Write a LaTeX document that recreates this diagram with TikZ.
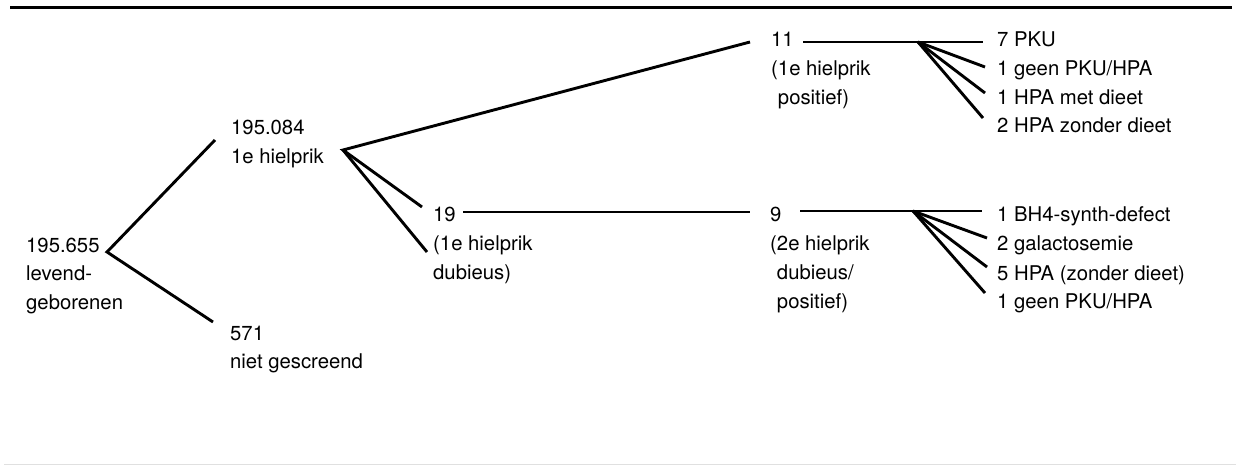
\documentclass[tikz,border=0pt]{standalone}
\usepackage{fontspec}
\setmainfont{TeX Gyre Heros}
\newcommand\blk[1]{\vtop{\baselineskip=28.7pt\lineskiplimit=-50pt\lineskip=0pt #1}}
\begin{document}
\begin{tikzpicture}[x=1pt,y=-1pt,
  every node/.style={inner sep=0pt, anchor=base west, font=\fontsize{20.3}{28.7}\selectfont},
  link/.style={line width=2.9pt, line join=miter},
  rule/.style={line width=2.6pt},
  faint/.style={line width=1pt, black!12}]
\useasboundingbox (0,0) rectangle (1240,468);
% rules
\coordinate (rl) at (10,7.5); \coordinate (rr) at (1232,7.5);
\draw[rule] (rl) -- (rr);
\coordinate (bl) at (4,464); \coordinate (br) at (1236,464);
\draw[faint] (bl) -- (br);
% text blocks
\node (live) at (26,252) {\blk{\hbox{195.655}\hbox{levend-}\hbox{geborenen}}};
\node (first) at (231,135) {\blk{\hbox{195.084}\hbox{1e hielprik}}};
\node (notscr) at (230,340) {\blk{\hbox{571}\hbox{niet gescreend}}};
\node (dub) at (433,222) {\blk{\hbox{19}\hbox{(1e hielprik}\hbox{dubieus)}}};
\node (pos) at (771,47) {\blk{\hbox{11}\hbox{(1e hielprik}\hbox{\phantom{(}positief)}}};
\node (sec) at (770,222) {\blk{\hbox{9}\hbox{(2e hielprik}\hbox{\phantom{(}dubieus/}\hbox{\phantom{(}positief)}}};
\node (pa) at (997,47) {7 PKU};
\node (pb) at (997,76) {1 geen PKU/HPA};
\node (pc) at (997,105) {1 HPA met dieet};
\node (pd) at (997,133) {2 HPA zonder dieet};
\node (sa) at (997,222) {1 BH4-synth-defect};
\node (sb) at (997,250) {2 galactosemie};
\node (sc) at (997,280) {5 HPA (zonder dieet)};
\node (sd) at (997,308) {1 geen PKU/HPA};
% connector points
\coordinate (v0) at (107,252);
\coordinate (e1) at (215,140);
\coordinate (e2) at (213,322);
\coordinate (v1) at (343,150);
\coordinate (e11) at (750,42);
\coordinate (e19a) at (422,207);
\coordinate (e19b) at (427,252);
\coordinate (s19) at (463,212);
\coordinate (t9) at (750,212);
\coordinate (s11) at (803,42);
\coordinate (f11) at (918,42);
\coordinate (r11a) at (983,42);
\coordinate (r11b) at (985,67);
\coordinate (r11c) at (985,93);
\coordinate (r11d) at (983,118);
\coordinate (s9) at (800,211);
\coordinate (f9) at (913,211);
\coordinate (r9a) at (982,211);
\coordinate (r9b) at (987,238);
\coordinate (r9c) at (987,267);
\coordinate (r9d) at (985,293);
% connectors
\draw[link] (e1) -- (v0) -- (e2);
\draw[link] (e11) -- (v1) -- (e19a);
\draw[link] (v1) -- (e19b);
\draw[link] (s19) -- (t9);
\draw[link] (s11) -- (r11a);
\draw[link] (f11) -- (r11b);
\draw[link] (f11) -- (r11c);
\draw[link] (f11) -- (r11d);
\draw[link] (s9) -- (r9a);
\draw[link] (f9) -- (r9b);
\draw[link] (f9) -- (r9c);
\draw[link] (f9) -- (r9d);
\end{tikzpicture}
\end{document}
